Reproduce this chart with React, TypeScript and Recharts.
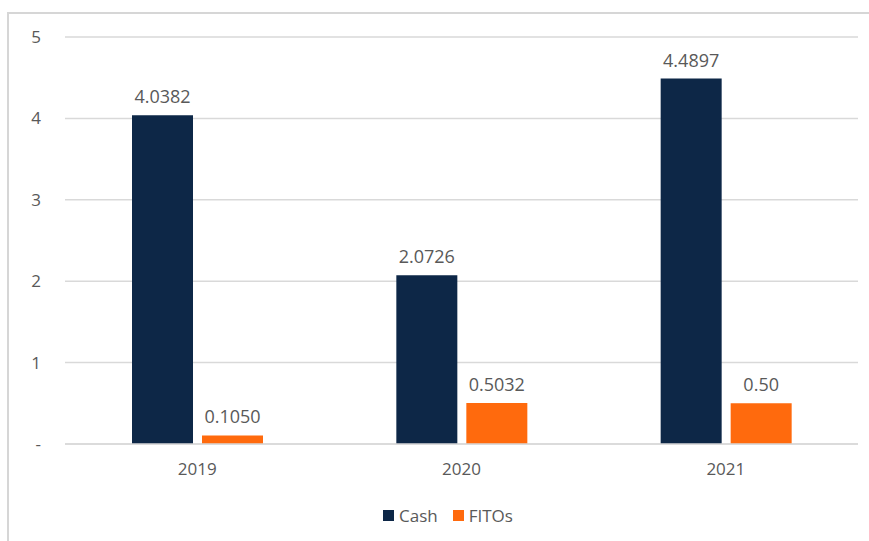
import { Bar, BarChart, CartesianGrid, LabelList, Legend, XAxis, YAxis } from 'recharts'

const years = ['2019', '2020', '2021']
const cash = [4.0382, 2.0726, 4.4897]
const fitos = [0.105, 0.5032, 0.5]
const cashLabels = ['4.0382', '2.0726', '4.4897']
const fitosLabels = ['0.1050', '0.5032', '0.50']
const yTicks = [0, 1, 2, 3, 4, 5]

const CASH = '#0D2747'
const FITOS = '#FF6A0D'
const TEXT = '#595959'
const GRID = '#d9d9d9'
const FONT = '"Open Sans", sans-serif'

const data = years.map((y, i) => ({
  year: y,
  cash: cash[i],
  fitos: fitos[i],
  cashLabel: cashLabels[i],
  fitosLabel: fitosLabels[i],
}))

function LegendBox() {
  const items = [
    { name: 'Cash', color: CASH },
    { name: 'FITOs', color: FITOS },
  ]
  return (
    <div style={{ display: 'flex', alignItems: 'center', fontFamily: FONT, fontSize: 17, color: TEXT }}>
      {items.map((it) => (
        <div key={it.name} style={{ display: 'flex', alignItems: 'center', marginRight: 15 }}>
          <span style={{ width: 11, height: 11, background: it.color, marginRight: 5 }} />
          <span>{it.name}</span>
        </div>
      ))}
    </div>
  )
}

export default function App() {
  return (
    <div
      style={{
        position: 'fixed',
        left: 0,
        top: 0,
        width: 869,
        height: 541,
        overflow: 'hidden',
        background: '#fff',
      }}
    >
      <div
        style={{
          position: 'absolute',
          left: 7,
          top: 12,
          width: 900,
          height: 600,
          border: '2px solid #d6d6d6',
        }}
      />
      <div style={{ position: 'absolute', left: 0, top: 0 }}>
        <BarChart
          width={869}
          height={541}
          data={data}
          margin={{ top: 37, right: 11, left: 0, bottom: 57 }}
          barSize={61}
          barGap={9}
        >
          <CartesianGrid vertical={false} stroke={GRID} strokeWidth={1.5} />
          <XAxis
            dataKey="year"
            height={40}
            axisLine={{ stroke: GRID, strokeWidth: 1.5 }}
            tickLine={false}
            tickSize={0}
            tickMargin={19}
            tick={{ fill: TEXT, fontSize: 17, fontFamily: FONT }}
          />
          <YAxis
            width={65}
            domain={[0, 5]}
            ticks={yTicks}
            axisLine={false}
            tickLine={false}
            tickSize={0}
            tickMargin={24}
            tickFormatter={(v: number) => (v === 0 ? '-' : String(v))}
            tick={{ fill: TEXT, fontSize: 17, fontFamily: FONT }}
          />
          <Legend
            verticalAlign="middle"
            align="center"
            wrapperStyle={{ top: 504, left: 383, width: 200 }}
            content={() => <LegendBox />}
          />
          <Bar dataKey="cash" name="Cash" fill={CASH} isAnimationActive={false}>
            <LabelList
              dataKey="cashLabel"
              position="top"
              offset={12}
              style={{ fill: TEXT, fontSize: 18, fontFamily: FONT }}
            />
          </Bar>
          <Bar dataKey="fitos" name="FITOs" fill={FITOS} isAnimationActive={false}>
            <LabelList
              dataKey="fitosLabel"
              position="top"
              offset={12}
              style={{ fill: TEXT, fontSize: 18, fontFamily: FONT }}
            />
          </Bar>
        </BarChart>
      </div>
    </div>
  )
}
